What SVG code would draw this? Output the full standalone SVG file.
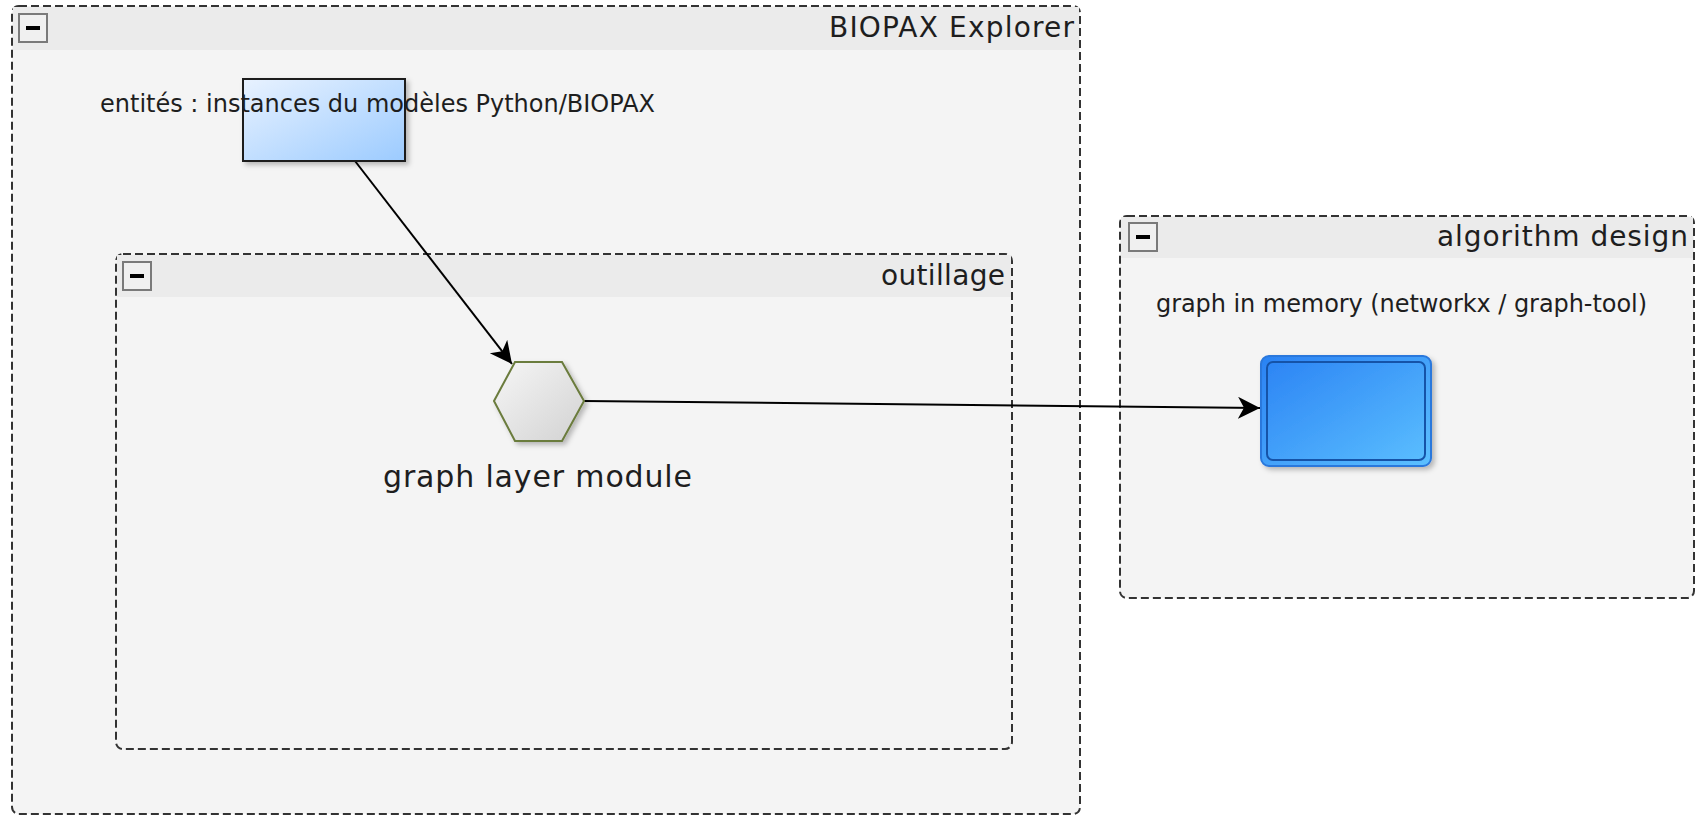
<svg xmlns="http://www.w3.org/2000/svg" width="1697" height="816" viewBox="0 0 1697 816">
  <style>
    .grp { fill: #f4f4f4; stroke: #333333; stroke-width: 2; stroke-dasharray: 8 4; }
    .hdr { fill: #ebebeb; }
    .btn { fill: #f0f0f0; stroke: #7a7a7a; stroke-width: 2; }
    .btnbar { fill: #000000; }
    .t { font-family: "DejaVu Sans", Verdana, sans-serif; fill: #1e1e1e; }
    .edge { fill: none; stroke: #000000; stroke-width: 2; }
  </style>
  <defs>
    <linearGradient id="gLight" x1="0" y1="0" x2="1" y2="1">
      <stop offset="0" stop-color="#e8f2ff"/>
      <stop offset="1" stop-color="#9ccbff"/>
    </linearGradient>
    <linearGradient id="gHex" x1="0" y1="0" x2="1" y2="1">
      <stop offset="0" stop-color="#f6f6f6"/>
      <stop offset="1" stop-color="#d2d2d2"/>
    </linearGradient>
    <linearGradient id="gBlue" x1="0" y1="0" x2="1" y2="1">
      <stop offset="0" stop-color="#2a82f4"/>
      <stop offset="1" stop-color="#5cc0ff"/>
    </linearGradient>
    <filter id="shadow" x="-20%" y="-20%" width="150%" height="150%">
      <feDropShadow dx="3" dy="3" stdDeviation="2.5" flood-color="#000000" flood-opacity="0.25"/>
    </filter>
    <marker id="arrow" markerUnits="userSpaceOnUse" markerWidth="26" markerHeight="24" refX="22" refY="11" orient="auto">
      <path d="M22,11 L0,0 L6,11 L0,22 Z" fill="#000000"/>
    </marker>
  </defs>

  <!-- group: BIOPAX Explorer -->
  <g id="group-biopax">
    <rect class="grp" x="12" y="6" width="1068" height="808" rx="7"/>
    <rect class="hdr" x="13" y="7" width="1066" height="43"/>
    <rect class="btn" x="19" y="14" width="28" height="28"/>
    <rect class="btnbar" x="26" y="26" width="14" height="4"/>
    <text class="t" x="829" y="37" font-size="28" textLength="245" lengthAdjust="spacing">BIOPAX Explorer</text>
  </g>

  <!-- group: outillage -->
  <g id="group-outillage">
    <rect class="grp" x="116" y="254" width="896" height="495" rx="7"/>
    <rect class="hdr" x="117" y="255" width="894" height="42"/>
    <rect class="btn" x="123" y="262" width="28" height="28"/>
    <rect class="btnbar" x="130" y="274" width="14" height="4"/>
    <text class="t" x="881" y="285" font-size="28" textLength="124" lengthAdjust="spacing">outillage</text>
  </g>

  <!-- group: algorithm design -->
  <g id="group-algorithm">
    <rect class="grp" x="1120" y="216" width="574" height="382" rx="7"/>
    <rect class="hdr" x="1121" y="217" width="572" height="41"/>
    <rect class="btn" x="1129" y="223" width="28" height="28"/>
    <rect class="btnbar" x="1136" y="235" width="14" height="4"/>
    <text class="t" x="1437" y="246" font-size="28" textLength="251" lengthAdjust="spacing">algorithm design</text>
  </g>

  <!-- connectors -->
  <g id="connectors">
    <line class="edge" x1="355" y1="161" x2="512" y2="364" marker-end="url(#arrow)"/>
    <line class="edge" x1="584" y1="401" x2="1260" y2="408" marker-end="url(#arrow)"/>
  </g>

  <!-- node: entités -->
  <g id="node-entites">
    <rect x="243" y="79" width="162" height="82" fill="url(#gLight)" stroke="#1e1e1e" stroke-width="2" filter="url(#shadow)"/>
    <text class="t" x="100" y="112" font-size="24" textLength="555" lengthAdjust="spacing">entités : instances du modèles Python/BIOPAX</text>
  </g>

  <!-- node: graph layer module -->
  <g id="node-graph-layer">
    <polygon points="494,401 515,362 562,362 584,401 562,441 515,441" fill="url(#gHex)" stroke="#6b7b3d" stroke-width="2" filter="url(#shadow)"/>
    <text class="t" x="383" y="487" font-size="30" textLength="309" lengthAdjust="spacing">graph layer module</text>
  </g>

  <!-- node: graph in memory -->
  <g id="node-graph-memory">
    <rect x="1261" y="356" width="170" height="110" rx="8" fill="url(#gBlue)" stroke="#2a78dc" stroke-width="2" filter="url(#shadow)"/>
    <rect x="1267" y="362" width="158" height="98" rx="6" fill="none" stroke="#1553a8" stroke-width="2"/>
    <text class="t" x="1156" y="312" font-size="24" textLength="491" lengthAdjust="spacing">graph in memory (networkx / graph-tool)</text>
  </g>
</svg>
